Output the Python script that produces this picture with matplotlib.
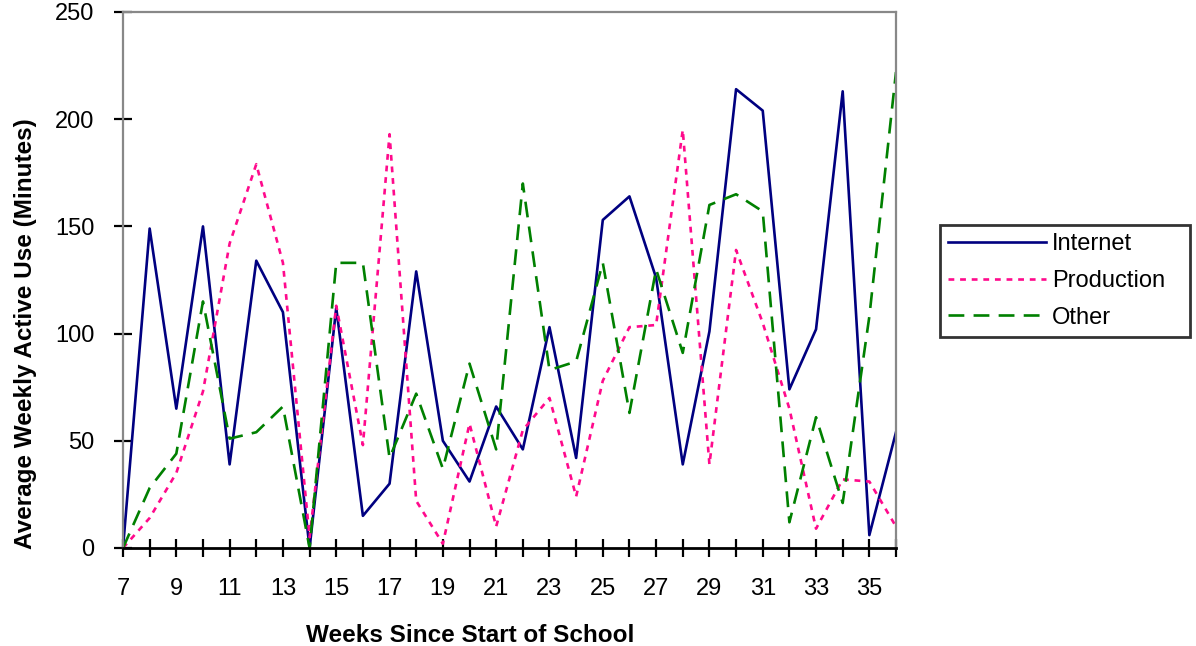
import matplotlib.pyplot as plt

plt.rcParams['font.family'] = ['Liberation Sans', 'DejaVu Sans']

# Weekly active use per category
weeks = list(range(7, 37))
internet = [0, 149, 65, 150, 39, 134, 110, 0, 112, 15,
            30, 129, 50, 31, 66, 46, 103, 42, 153, 164,
            126, 39, 101, 214, 204, 74, 102, 213, 6, 54]
production = [0, 14, 35, 73, 142, 179, 133, 5, 113, 48,
              193, 22, 2, 58, 10, 55, 70, 24, 78, 103,
              104, 195, 39, 139, 105, 65, 9, 32, 31, 10]
other = [0, 28, 44, 115, 51, 54, 66, 0, 133, 133,
         42, 72, 37, 86, 46, 170, 83, 87, 133, 63,
         130, 91, 160, 165, 157, 12, 61, 21, 108, 222]

fig = plt.figure(figsize=(11.96, 6.46), dpi=100)
ax = fig.add_axes([123 / 1196, 98 / 646, 773 / 1196, 536 / 646])

ax.plot(weeks, internet, color='#000080', lw=1.9, label='Internet')
ax.plot(weeks, production, color='#FF0A8C', lw=1.9, dashes=(2.2, 2.2), label='Production')
ax.plot(weeks, other, color='#008000', lw=1.9, dashes=(6, 3.5), label='Other')

ax.set_xlim(7, 36)
ax.set_ylim(0, 250)
ax.set_xticks(weeks)
ax.set_xticklabels([str(w) if w % 2 == 1 else '' for w in weeks])
ax.set_yticks(range(0, 251, 50))

ax.tick_params(axis='both', direction='inout', length=13, width=1.6,
               color='black', labelsize=17)
ax.tick_params(axis='x', pad=15)
ax.tick_params(axis='y', pad=14)

for side in ['left', 'top', 'right']:
    ax.spines[side].set_color('#888888')
    ax.spines[side].set_linewidth(1.6)
ax.spines['bottom'].set_color('black')
ax.spines['bottom'].set_linewidth(2)

ax.set_xlabel('Weeks Since Start of School', fontsize=17.5, fontweight='bold')
ax.set_ylabel('Average Weekly Active Use (Minutes)', fontsize=17.5, fontweight='bold')
ax.xaxis.set_label_coords(0.449, -0.142)
ax.yaxis.set_label_coords(-0.111, 0.40)

# legend box sits to the right of the plot, vertically mid-height
leg = fig.legend(loc='upper left',
                 bbox_to_anchor=(940 / 1196, 1 - 337 / 646, 250 / 1196, 112 / 646),
                 mode='expand', fontsize=17, frameon=True, fancybox=False,
                 edgecolor='black', handlelength=4.15, handletextpad=0.25,
                 borderpad=0.35, labelspacing=0.62, borderaxespad=0)
leg.get_frame().set_linewidth(2)

fig.savefig('out.png', dpi=100)
